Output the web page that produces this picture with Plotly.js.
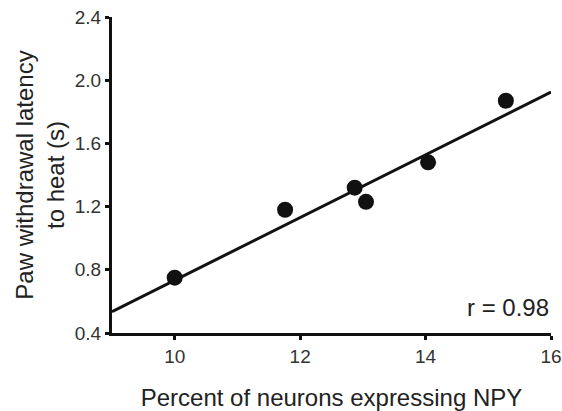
<!DOCTYPE html>
<html>
<head>
<meta charset="utf-8">
<script src="https://cdn.plot.ly/plotly-3.0.1.min.js"></script>
<style>html,body{margin:0;padding:0;background:#fff;}#chart{width:562px;height:411px;}</style>
</head>
<body>
<div id="chart"></div>
<script>
// Data
const npyPercent = [10.0, 11.76, 12.87, 13.05, 14.04, 15.28];
const latency = [0.75, 1.18, 1.32, 1.23, 1.48, 1.87];
const fitX = [9, 16];
const fitY = [0.535, 1.925];
const xTicks = [10, 12, 14, 16];
const yTicks = [0.4, 0.8, 1.2, 1.6, 2.0, 2.4];
const yTickText = ['0.4', '0.8', '1.2', '1.6', '2.0', '2.4'];
const rLabel = 'r = 0.98';

const font = 'Liberation Sans, Arial, sans-serif';
const traces = [
  {x: fitX, y: fitY, mode: 'lines', type: 'scatter', line: {color: '#111', width: 3}, hoverinfo: 'skip', cliponaxis: true},
  {x: npyPercent, y: latency, mode: 'markers', type: 'scatter', marker: {color: '#111', size: 16}, cliponaxis: false}
];
const layout = {
  width: 562, height: 411,
  margin: {l: 112, r: 11, t: 17, b: 78},
  paper_bgcolor: '#fff', plot_bgcolor: '#fff',
  showlegend: false,
  font: {family: font, color: '#222'},
  xaxis: {
    range: [9, 16], tickvals: xTicks, ticktext: xTicks.map(String),
    showgrid: false, zeroline: false, showline: true, linecolor: '#111', linewidth: 3,
    ticks: 'outside', ticklen: 4, tickwidth: 3, tickcolor: '#111',
    tickfont: {size: 19, color: '#333', family: font},
    title: {text: 'Percent of neurons expressing NPY', font: {size: 24, color: '#222', family: font}, standoff: 24}
  },
  yaxis: {
    range: [0.4, 2.4], tickvals: yTicks, ticktext: yTickText,
    showgrid: false, zeroline: false, showline: true, linecolor: '#111', linewidth: 3,
    ticks: 'outside', ticklen: 4, tickwidth: 3, tickcolor: '#111',
    tickfont: {size: 19, color: '#333', family: font},
    title: {text: 'Paw withdrawal latency<br>to heat (s)', font: {size: 24, color: '#222', family: font}, standoff: 4}
  },
  annotations: [{
    text: rLabel, xref: 'x', yref: 'y', x: 16, y: 0.56, xanchor: 'right', yanchor: 'middle',
    showarrow: false, font: {size: 24, color: '#222', family: font}
  }]
};
Plotly.newPlot('chart', traces, layout, {displayModeBar: false, staticPlot: true});
</script>
</body>
</html>
